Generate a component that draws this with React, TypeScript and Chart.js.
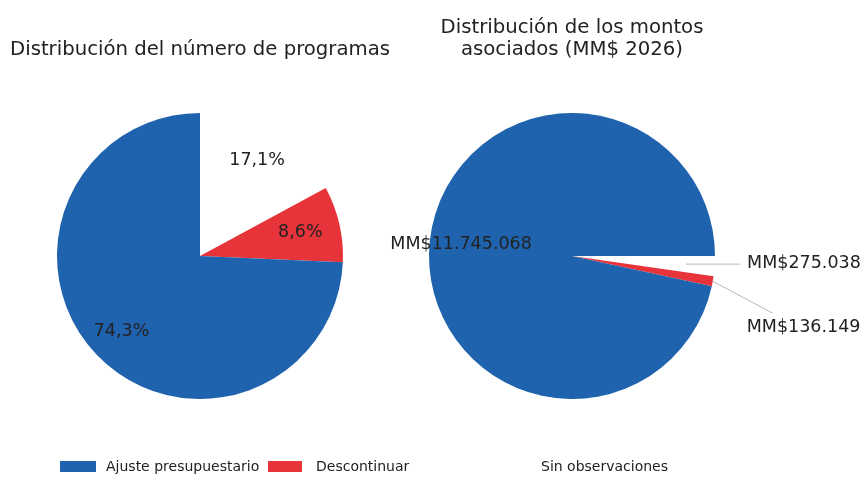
import React, { useEffect, useRef } from 'react';
import { Chart, registerables } from 'chart.js';

Chart.register(...registerables);

// ---- data ----
const categories = ['Ajuste presupuestario', 'Descontinuar', 'Sin observaciones'];
const sliceColors = ['#1f62ae', '#e6343a', '#ffffff'];
const programShares = [74.3, 8.6, 17.1]; // %
const amounts = [11745068, 136149, 275038]; // MM$ 2026
const leftTitle = 'Distribución del número de programas';
const rightTitle = ['Distribución de los montos', 'asociados (MM$ 2026)'];

const FONT = "'DejaVu Sans', sans-serif";
const TEXT = '#222222';

const fmtPct = (v: number) => v.toFixed(1).replace('.', ',') + '%';
const fmtMM = (v: number) => 'MM$' + String(v).replace(/\B(?=(\d{3})+(?!\d))/g, '.');

type Placement = { r: number; line?: [number, number]; text?: [number, number] };

function makeLabelPlugin(texts: string[], placements: Placement[]) {
  return {
    id: 'sliceLabels',
    afterDatasetsDraw(chart: any) {
      const meta = chart.getDatasetMeta(0);
      const ctx = chart.ctx;
      meta.data.forEach((arc: any, i: number) => {
        const p = arc.getProps(['x', 'y', 'startAngle', 'endAngle', 'outerRadius'], true);
        const mid = (p.startAngle + p.endAngle) / 2;
        const pl = placements[i];
        const ax = p.x + Math.cos(mid) * p.outerRadius * pl.r;
        const ay = p.y + Math.sin(mid) * p.outerRadius * pl.r;
        ctx.save();
        ctx.font = `17.5px ${FONT}`;
        ctx.fillStyle = TEXT;
        ctx.textBaseline = 'middle';
        if (pl.line) {
          ctx.strokeStyle = '#b8b8b8';
          ctx.lineWidth = 1;
          ctx.beginPath();
          ctx.moveTo(ax, ay);
          ctx.lineTo(ax + pl.line[0], ay + pl.line[1]);
          ctx.stroke();
        }
        if (pl.text) {
          ctx.textAlign = 'left';
          ctx.fillText(texts[i], ax + pl.text[0], ay + pl.text[1]);
        } else {
          ctx.textAlign = 'center';
          ctx.fillText(texts[i], ax, ay);
        }
        ctx.restore();
      });
    },
  };
}

// matplotlib draws counter-clockwise; Chart.js clockwise -> reverse order
const rev = <T,>(a: T[]) => a.slice().reverse();

export default function App() {
  const leftRef = useRef<HTMLCanvasElement>(null);
  const rightRef = useRef<HTMLCanvasElement>(null);

  useEffect(() => {
    document.body.style.margin = '0';
    const common = (title: string | string[], padTop: number, padBottom: number, layoutPad: any) => ({
      responsive: false,
      animation: false as const,
      events: [],
      layout: { padding: layoutPad },
      plugins: {
        legend: { display: false },
        tooltip: { enabled: false },
        title: {
          display: true,
          text: title,
          color: TEXT,
          font: { family: FONT, size: 19.7, weight: 'normal' as const, lineHeight: 1.13 },
          padding: { top: padTop, bottom: padBottom },
        },
      },
    });

    const lh = 19.7 * 1.13;

    const left = new Chart(leftRef.current!, {
      type: 'pie',
      data: {
        labels: rev(categories),
        datasets: [
          {
            data: rev(programShares),
            backgroundColor: rev(sliceColors),
            borderWidth: 0,
            hoverOffset: 0,
            offset: 0,
          },
        ],
      },
      options: {
        ...common(leftTitle, 50 - lh / 2, 113 - (50 - lh / 2) - lh, { left: 0, right: 464, top: 0, bottom: 98 }),
        rotation: 0,
      },
      plugins: [
        makeLabelPlugin(rev(programShares).map(fmtPct), [{ r: 0.78 }, { r: 0.72 }, { r: 0.76 }]),
      ],
    } as any);

    const right = new Chart(rightRef.current!, {
      type: 'pie',
      data: {
        labels: rev(categories),
        datasets: [
          {
            data: rev(amounts),
            backgroundColor: rev(sliceColors),
            borderWidth: 0,
            hoverOffset: 0,
            offset: 0,
          },
        ],
      },
      options: {
        ...common(rightTitle, 28 - lh / 2, 113 - (28 - lh / 2) - 2 * lh, { left: 372, right: 92, top: 0, bottom: 98 }),
        rotation: 90,
      },
      plugins: [
        makeLabelPlugin(rev(amounts).map(fmtMM), [
          { r: 0.8, line: [54, 0], text: [61, -1] },
          { r: 1.0, line: [60, 32], text: [34, 46] },
          { r: 0.78 },
        ]),
      ],
    } as any);

    return () => {
      left.destroy();
      right.destroy();
    };
  }, []);

  const legendItems = [
    { box: 60, boxW: 36, text: 106 },
    { box: 268, boxW: 34, text: 316 },
    { box: 494, boxW: 34, text: 541 },
  ];

  return (
    <div style={{ position: 'relative', width: 864, height: 497, background: '#ffffff', overflow: 'hidden' }}>
      <canvas ref={leftRef} width={864} height={497} style={{ position: 'absolute', left: 0, top: 0 }} />
      <canvas ref={rightRef} width={864} height={497} style={{ position: 'absolute', left: 0, top: 0 }} />
      {categories.map((c, i) => (
        <React.Fragment key={c}>
          <div
            style={{
              position: 'absolute',
              left: legendItems[i].box,
              top: 461,
              width: legendItems[i].boxW,
              height: 11,
              background: sliceColors[i],
            }}
          />
          <div
            style={{
              position: 'absolute',
              left: legendItems[i].text,
              top: 457,
              fontFamily: FONT,
              fontSize: 14,
              lineHeight: '18px',
              color: TEXT,
              whiteSpace: 'nowrap',
            }}
          >
            {c}
          </div>
        </React.Fragment>
      ))}
    </div>
  );
}
